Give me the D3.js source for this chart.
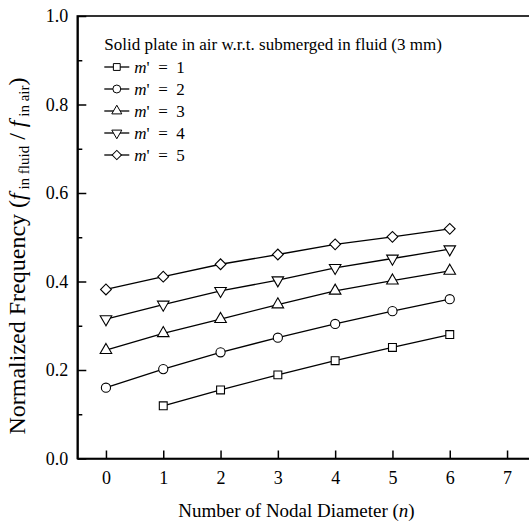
<!DOCTYPE html>
<html>
<head>
<meta charset="utf-8">
<script src="https://cdn.jsdelivr.net/npm/d3@7"></script>
<style>
body { margin: 0; background: #fff; }
svg text { font-family: "Liberation Serif", Tinos, "DejaVu Serif", serif; fill: #000; }
</style>
</head>
<body>
<div id="chart"></div>
<script>
// nodal diameter n and normalized frequency per m'
var nodal = [0, 1, 2, 3, 4, 5, 6];
var m1 = [null, 0.119, 0.155, 0.189, 0.221, 0.251, 0.280];
var m2 = [0.160, 0.202, 0.240, 0.273, 0.304, 0.333, 0.360];
var m3 = [0.245, 0.283, 0.315, 0.348, 0.379, 0.402, 0.424];
var m4 = [0.315, 0.348, 0.379, 0.403, 0.431, 0.452, 0.473];
var m5 = [0.382, 0.411, 0.439, 0.461, 0.484, 0.501, 0.519];
var seriesNames = ["1", "2", "3", "4", "5"];
var xTicks = [0, 1, 2, 3, 4, 5, 6, 7];
var yTicks = [0, 0.2, 0.4, 0.6, 0.8, 1.0];
var yMinor = [0.1, 0.3, 0.5, 0.7, 0.9];

var margin = {top: 16, right: 0, bottom: 65.5, left: 77.3};
var W = 529, H = 524;
var width = 458.4;   // runs past the window edge like the original
var height = H - margin.top - margin.bottom;
var FONT = '"Liberation Serif", Tinos, "DejaVu Serif", serif';

var svg = d3.select("#chart").append("svg").attr("width", W).attr("height", H)
    .append("g").attr("transform", "translate(" + margin.left + "," + margin.top + ")");

var x = d3.scaleLinear().domain([-0.5, 7.5]).range([0, width]);
var y = d3.scaleLinear().domain([0, 1]).range([height, 0]);

// frame
svg.append("rect").attr("width", width).attr("height", height)
    .attr("fill", "none").attr("stroke", "#000").attr("stroke-width", 1.6);

var xAxis = svg.append("g").attr("transform", "translate(0," + height + ")")
    .call(d3.axisBottom(x).tickValues(xTicks).tickFormat(d3.format("d")).tickSizeInner(-8).tickSizeOuter(0).tickPadding(13));
var yAxis = svg.append("g")
    .call(d3.axisLeft(y).tickValues(yTicks).tickFormat(d3.format(".1f")).tickSizeInner(-9).tickSizeOuter(0).tickPadding(9));
var yAxisMinor = svg.append("g")
    .call(d3.axisLeft(y).tickValues(yMinor).tickFormat("").tickSizeInner(-5).tickSizeOuter(0));

[xAxis, yAxis, yAxisMinor].forEach(function(a) {
    a.attr("font-family", FONT);
    a.select(".domain").attr("stroke-width", 1.6);
    a.selectAll(".tick line").attr("stroke-width", 1.5);
    a.selectAll("text").attr("font-size", 18);
});

// series
var all = [m1, m2, m3, m4, m5];
var shapes = [
    {type: d3.symbolSquare, size: 62, rot: 0},
    {type: d3.symbolCircle, size: 66, rot: 0},
    {type: d3.symbolTriangle, size: 58, rot: 0},
    {type: d3.symbolTriangle, size: 58, rot: 180},
    {type: d3.symbolSquare, size: 58, rot: 45}
];

var line = d3.line().defined(function(d) { return d.v != null; })
    .x(function(d) { return x(d.n); }).y(function(d) { return y(d.v); });

all.forEach(function(vals, i) {
    var pts = nodal.map(function(n, j) { return {n: n, v: vals[j]}; });
    svg.append("path").datum(pts).attr("d", line)
        .attr("fill", "none").attr("stroke", "#000").attr("stroke-width", 1.3);
    svg.selectAll(".pt" + i).data(pts.filter(function(d) { return d.v != null; })).enter()
        .append("path")
        .attr("d", d3.symbol().type(shapes[i].type).size(shapes[i].size))
        .attr("transform", function(d) { return "translate(" + x(d.n) + "," + y(d.v) + ") rotate(" + shapes[i].rot + ")"; })
        .attr("fill", "#fff").attr("stroke", "#000").attr("stroke-width", 1.1);
});

// legend
var lg = svg.append("g").attr("transform", "translate(27,0)");
lg.append("text").attr("x", 0).attr("y", 28).attr("dy", "0.35em").attr("font-size", 17)
    .text("Solid plate in air w.r.t. submerged in fluid (3 mm)");
seriesNames.forEach(function(s, i) {
    var yy = 51 + i * 22;
    lg.append("line").attr("x1", 0).attr("x2", 25).attr("y1", yy).attr("y2", yy)
        .attr("stroke", "#000").attr("stroke-width", 1.3);
    lg.append("path")
        .attr("d", d3.symbol().type(shapes[i].type).size(shapes[i].size * 0.75))
        .attr("transform", "translate(12.5," + yy + ") rotate(" + shapes[i].rot + ")")
        .attr("fill", "#fff").attr("stroke", "#000").attr("stroke-width", 1);
    var t = lg.append("text").attr("x", 30).attr("y", yy).attr("dy", "0.35em").attr("font-size", 17);
    t.append("tspan").attr("font-style", "italic").text("m");
    t.append("tspan").text("'\u00a0\u00a0=\u00a0\u00a0" + s);
});

// axis titles
svg.append("text").attr("x", (x(7.5) + x(-0.5)) / 2 - 10).attr("y", height + 58)
    .attr("text-anchor", "middle").attr("font-size", 19)
    .html('Number of Nodal Diameter (<tspan font-style="italic">n</tspan>)');

var yt = svg.append("text").attr("transform", "rotate(-90)")
    .attr("x", -(256 - margin.top)).attr("y", -52).attr("text-anchor", "middle").attr("font-size", 24);
yt.append("tspan").text("Normalized Frequency (");
yt.append("tspan").attr("font-style", "italic").text("f");
yt.append("tspan").attr("font-size", 15).attr("dy", 4).text(" in fluid");
yt.append("tspan").attr("dy", -4).text(" / ");
yt.append("tspan").attr("font-style", "italic").text("f");
yt.append("tspan").attr("font-size", 15).attr("dy", 4).text(" in air");
yt.append("tspan").attr("dy", -4).text(")");
</script>
</body>
</html>
